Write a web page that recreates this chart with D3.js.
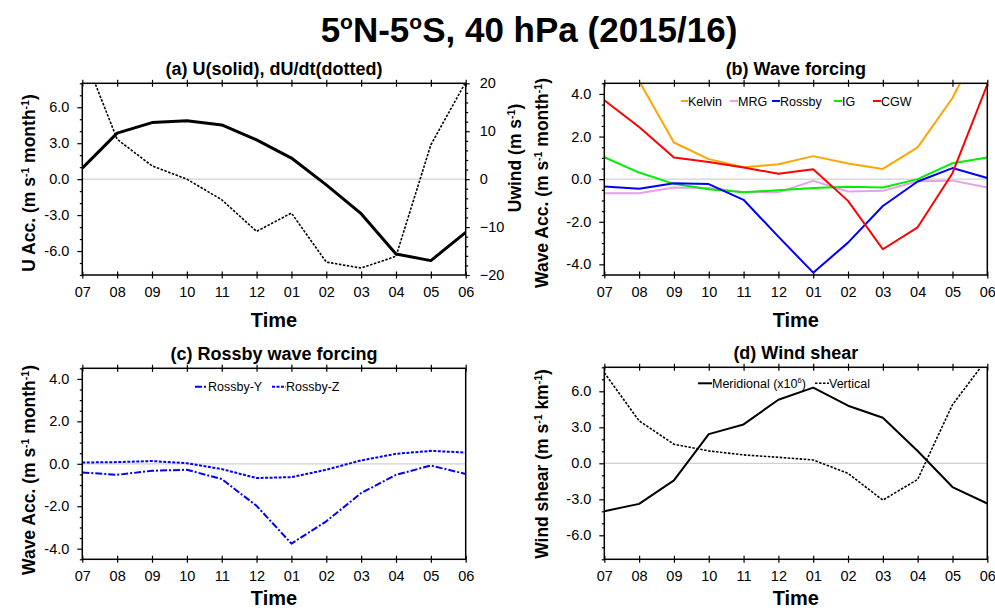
<!DOCTYPE html>
<html>
<head>
<meta charset="utf-8">
<script src="https://cdn.jsdelivr.net/npm/d3@7"></script>
<style>
	body { margin: 0; background: #fff; }
	text { font-family: 'Liberation Sans', Arial, Helvetica, sans-serif; fill: #000; }
	.axis path { display: none; }
	.axis line { stroke: #000; stroke-width: 1.2; }
	.axis text { font-size: 14.5px; }
</style>
</head>
<body>
<script>
// months on the x axis (Jul 2015 - Jun 2016)
var months = ['07', '08', '09', '10', '11', '12', '01', '02', '03', '04', '05', '06'];

// (a) U acceleration (dotted, left axis) and U wind (solid, right axis)
var uAcc = [10.7, 3.33, 1.11, 0.0, -1.72, -4.36, -2.83, -6.92, -7.42, -6.44, 2.86, 8.1];
var uWind = [2.3, 9.6, 11.8, 12.2, 11.3, 8.2, 4.4, -1.2, -7.2, -15.6, -17.0, -11.1];

// (b) wave forcing
var kelvin = [7.5, 4.6, 1.72, 0.94, 0.56, 0.70, 1.08, 0.73, 0.48, 1.49, 3.81, 7.0];
var mrg = [-0.66, -0.66, -0.39, -0.42, -0.60, -0.62, -0.08, -0.58, -0.55, -0.10, -0.07, -0.39];
var rossby = [-0.35, -0.45, -0.19, -0.23, -0.97, -2.70, -4.39, -2.98, -1.26, -0.11, 0.52, 0.05];
var ig = [1.03, 0.31, -0.22, -0.47, -0.61, -0.52, -0.42, -0.36, -0.39, 0.0, 0.75, 1.02];
var cgw = [3.70, 2.45, 1.02, 0.80, 0.55, 0.25, 0.47, -1.02, -3.29, -2.26, 0.28, 4.44];

// (c) Rossby wave forcing components
var rossbyY = [-0.41, -0.52, -0.33, -0.28, -0.72, -1.98, -3.76, -2.71, -1.38, -0.52, -0.08, -0.48];
var rossbyZ = [0.06, 0.08, 0.13, 0.03, -0.25, -0.67, -0.63, -0.28, 0.16, 0.47, 0.61, 0.53];

// (d) wind shear
var meridional = [-3.99, -3.38, -1.42, 2.43, 3.24, 5.30, 6.31, 4.80, 3.80, 1.03, -1.98, -3.35];
var vertical = [7.54, 3.54, 1.59, 1.03, 0.70, 0.50, 0.28, -0.84, -3.07, -1.34, 4.88, 8.73];

var accTicks = [-6, -3, 0, 3, 6];
var waveTicks = [-4, -2, 0, 2, 4];
var windTicks = [-20, -10, 0, 10, 20];

var width = 995, height = 611;

var svg = d3.select('body')
	.append('svg')
	.attr('width', width)
	.attr('height', height);

// text with ^{...} superscripts; the tspan after a superscript drops back down
function richText(sel, str) {
	var parts = str.split(/\^\{([^}]*)\}/);
	var raised = false;
	parts.forEach((p, i) => {
		if (p === '') return;
		var t = sel.append('tspan').text(p);
		if (i % 2 === 1) {
			t.attr('font-size', '0.6em').attr('dy', '-0.62em');
			raised = true;
		} else if (raised) {
			t.attr('dy', '0.372em');
			raised = false;
		}
	});
	return sel;
}

function minorValues(domain, step, majors) {
	return d3.range(Math.ceil(domain[0] / step) * step, domain[1] + 1e-6, step)
		.filter(v => !majors.some(m => Math.abs(m - v) < 1e-6));
}

// tick marks only, no labels
function bareTicks(g, axis, tx, ty) {
	var a = g.append('g').attr('class', 'axis')
		.attr('transform', `translate(${tx}, ${ty})`)
		.call(axis.tickFormat(''));
	a.selectAll('text').remove();
	return a;
}

function panel(cfg) {
	var x = d3.scalePoint().domain(months).range([cfg.left, cfg.right]);
	var y = d3.scaleLinear().domain(cfg.yDomain).range([cfg.bottom, cfg.top]);
	var g = svg.append('g');

	var clipId = 'clip-' + cfg.id;
	g.append('clipPath').attr('id', clipId)
		.append('rect')
		.attr('x', cfg.left).attr('y', cfg.top)
		.attr('width', cfg.right - cfg.left).attr('height', cfg.bottom - cfg.top);

	// zero reference line
	g.append('line')
		.attr('x1', cfg.left).attr('x2', cfg.right)
		.attr('y1', y(0)).attr('y2', y(0))
		.attr('stroke', '#d0d0d0').attr('stroke-width', 1.2);

	// x axes: ticks both in and out, top and bottom
	g.append('g').attr('class', 'axis')
		.attr('transform', `translate(0, ${cfg.bottom})`)
		.call(d3.axisBottom(x).tickSize(3.5).tickPadding(8));
	bareTicks(g, d3.axisBottom(x).tickSize(-3.5), 0, cfg.bottom);
	bareTicks(g, d3.axisTop(x).tickSize(3.5), 0, cfg.top);
	bareTicks(g, d3.axisTop(x).tickSize(-3.5), 0, cfg.top);

	// left y axis
	g.append('g').attr('class', 'axis')
		.attr('transform', `translate(${cfg.left}, 0)`)
		.call(d3.axisLeft(y).tickValues(cfg.yTicks).tickSize(5).tickPadding(8)
			.tickFormat(d => d.toFixed(1)));
	bareTicks(g, d3.axisLeft(y).tickValues(minorValues(cfg.yDomain, cfg.yMinor, cfg.yTicks)).tickSize(2.5),
		cfg.left, 0);

	g.append('text')
		.attr('x', (cfg.left + cfg.right) / 2)
		.attr('y', cfg.top - 8)
		.attr('text-anchor', 'middle')
		.attr('font-size', '18px')
		.attr('font-weight', 'bold')
		.text(cfg.title);

	g.append('text')
		.attr('x', (cfg.left + cfg.right) / 2)
		.attr('y', cfg.timeY)
		.attr('text-anchor', 'middle')
		.attr('font-size', '20px')
		.attr('font-weight', 'bold')
		.text('Time');

	richText(g.append('text')
		.attr('transform', `translate(${cfg.ylabelX}, ${cfg.ylabelY}) rotate(-90)`)
		.attr('text-anchor', 'middle')
		.attr('font-size', '17.5px')
		.attr('font-weight', 'bold'), cfg.ylabel);

	var plot = g.append('g').attr('clip-path', `url(#${clipId})`);

	var legend = g.append('g');

	cfg.series.forEach(s => {
		var yy = s.scale || y;
		var line = d3.line()
			.x((d, i) => x(months[i]))
			.y(d => yy(d));
		plot.append('path')
			.datum(s.values)
			.attr('fill', 'none')
			.attr('stroke', s.color)
			.attr('stroke-width', s.width)
			.attr('stroke-dasharray', s.dash)
			.attr('stroke-linejoin', 'round')
			.attr('d', line);

		if (s.label) {
			legend.append('line')
				.attr('x1', s.lx).attr('x2', s.lx + s.llen)
				.attr('y1', cfg.legendY).attr('y2', cfg.legendY)
				.attr('stroke', s.color)
				.attr('stroke-width', s.width)
				.attr('stroke-dasharray', s.dash);
			richText(legend.append('text')
				.attr('x', s.lx + s.llen)
				.attr('y', cfg.legendY + 4.5)
				.attr('font-size', '12.5px'), s.label);
		}
	});

	// frame
	g.append('rect')
		.attr('x', cfg.left).attr('y', cfg.top)
		.attr('width', cfg.right - cfg.left).attr('height', cfg.bottom - cfg.top)
		.attr('fill', 'none')
		.attr('stroke', '#000')
		.attr('stroke-width', 1.5);

	return { x: x, y: y, g: g };
}

// title
richText(svg.append('text')
	.attr('x', 529)
	.attr('y', 42)
	.attr('text-anchor', 'middle')
	.attr('font-size', '35px')
	.attr('font-weight', 'bold'), '5^{o}N-5^{o}S, 40 hPa (2015/16)');

// (a) right-hand axis scale for U wind
var yWind = d3.scaleLinear().domain([-20, 20]).range([275, 83.3]);

var pa = panel({
	id: 'a', left: 82.3, right: 465.7, top: 83.3, bottom: 275,
	yDomain: [-8, 8], yTicks: accTicks, yMinor: 1, timeY: 327,
	title: '(a) U(solid), dU/dt(dotted)',
	ylabel: 'U Acc. (m s^{-1} month^{-1})', ylabelX: 35, ylabelY: 183,
	legendY: 0,
	series: [
		{ values: uAcc, color: '#000', width: 1.6, dash: '2.5,1.5' },
		{ values: uWind, color: '#000', width: 3, dash: null, scale: yWind }
	]
});

pa.g.append('g').attr('class', 'axis')
	.attr('transform', 'translate(465.7, 0)')
	.call(d3.axisRight(yWind).tickValues(windTicks).tickSize(4).tickPadding(10));
bareTicks(pa.g, d3.axisRight(yWind).tickValues(minorValues([-20, 20], 2, windTicks)).tickSize(2.5), 465.7, 0);

richText(pa.g.append('text')
	.attr('transform', 'translate(521, 158) rotate(-90)')
	.attr('text-anchor', 'middle')
	.attr('font-size', '17.5px')
	.attr('font-weight', 'bold'), 'Uwind (m s^{-1})');

panel({
	id: 'b', left: 604.3, right: 987.3, top: 83.3, bottom: 275,
	yDomain: [-4.5, 4.5], yTicks: waveTicks, yMinor: 0.5, timeY: 327,
	title: '(b) Wave forcing',
	ylabel: 'Wave Acc. (m s^{-1} month^{-1})', ylabelX: 548, ylabelY: 183,
	legendY: 101,
	series: [
		{ values: kelvin, color: '#ffa500', width: 2, dash: null, label: 'Kelvin', lx: 681, llen: 7 },
		{ values: mrg, color: '#e8a0e8', width: 2, dash: null, label: 'MRG', lx: 730, llen: 8 },
		{ values: ig, color: '#00ee00', width: 2, dash: null, label: 'IG', lx: 834, llen: 8 },
		{ values: rossby, color: '#0000ff', width: 2, dash: null, label: 'Rossby', lx: 772, llen: 8 },
		{ values: cgw, color: '#ff0000', width: 2, dash: null, label: 'CGW', lx: 873, llen: 8 }
	]
});

panel({
	id: 'c', left: 82.3, right: 465.7, top: 368.3, bottom: 559.3,
	yDomain: [-4.5, 4.5], yTicks: waveTicks, yMinor: 0.5, timeY: 605,
	title: '(c) Rossby wave forcing',
	ylabel: 'Wave Acc. (m s^{-1} month^{-1})', ylabelX: 35, ylabelY: 470,
	legendY: 386.7,
	series: [
		{ values: rossbyY, color: '#0000ff', width: 2, dash: '7,2,2,2', label: 'Rossby-Y', lx: 195, llen: 13 },
		{ values: rossbyZ, color: '#0000ff', width: 2, dash: '3,1.5', label: 'Rossby-Z', lx: 272, llen: 14 }
	]
});

panel({
	id: 'd', left: 604.3, right: 987.3, top: 367.3, bottom: 559.3,
	yDomain: [-8, 8], yTicks: accTicks, yMinor: 1, timeY: 605,
	title: '(d) Wind shear',
	ylabel: 'Wind shear (m s^{-1} km^{-1})', ylabelX: 548, ylabelY: 464,
	legendY: 383.3,
	series: [
		{ values: meridional, color: '#000', width: 2, dash: null, label: 'Meridional (x10^{6})', lx: 698, llen: 14 },
		{ values: vertical, color: '#000', width: 1.6, dash: '2.5,1.5', label: 'Vertical', lx: 815, llen: 14 }
	]
});
</script>
</body>
</html>
